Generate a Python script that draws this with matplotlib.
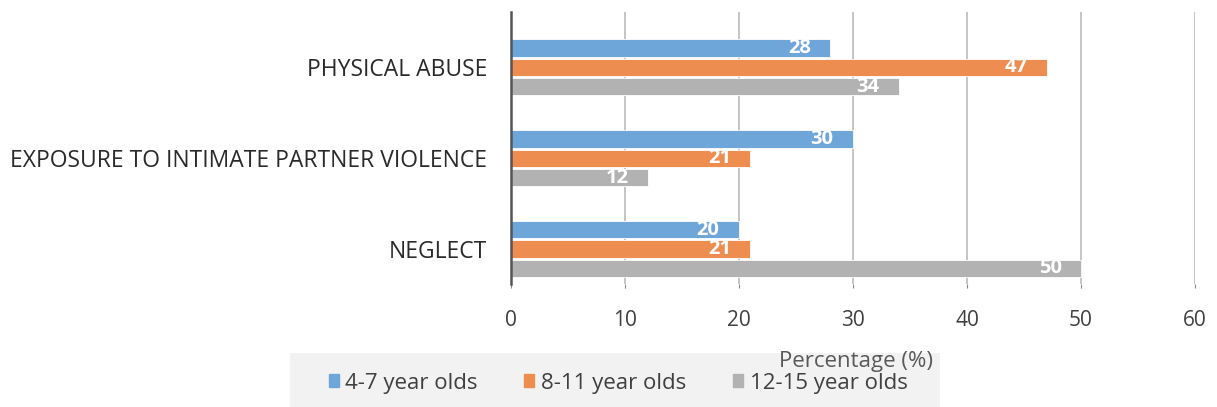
import matplotlib.pyplot as plt
import matplotlib.patches as mpatches
import numpy as np

categories = ["NEGLECT", "EXPOSURE TO INTIMATE PARTNER VIOLENCE", "PHYSICAL ABUSE"]
series_names = ["4-7 year olds", "8-11 year olds", "12-15 year olds"]
age_4_7 = [20, 30, 28]
age_8_11 = [21, 21, 47]
age_12_15 = [50, 12, 34]
xticks = [0, 10, 20, 30, 40, 50, 60]

colors = ["#6FA6DA", "#EE8D50", "#B2B2B2"]
plt.rcParams['font.family'] = ['Open Sans', 'DejaVu Sans']

fig = plt.figure(figsize=(12.17, 4.07), dpi=100)
ax = fig.add_axes([511 / 1217, 1 - 284 / 407, 684 / 1217, 272 / 407])

y = np.arange(len(categories))
bar_h = 0.19
step = 0.213
values = [age_4_7, age_8_11, age_12_15]
for i, (vals, c, name) in enumerate(zip(values, colors, series_names)):
    pos = y + (1 - i) * step
    bars = ax.barh(pos, vals, height=bar_h, color=c, edgecolor="white",
                   linewidth=0.6, label=name, zorder=2)
    for b, v in zip(bars, vals):
        ax.text(v - 1.7, b.get_y() + b.get_height() / 2, str(v), ha="right",
                va="center", color="white", fontsize=14.5, fontweight="bold",
                zorder=3)

ax.set_xlim(0, 60)
ax.set_ylim(-0.385, 2.61)
ax.set_xticks(xticks)
ax.set_yticks(y)
ax.set_yticklabels(categories, fontsize=16.5, color="#2A2A2A")
ax.tick_params(axis="y", length=0, pad=17)
ax.tick_params(axis="x", length=3, color="#888888", labelsize=15,
               labelcolor="#404040", pad=16)
ax.grid(axis="x", color="#BBBBBB", linewidth=1.2, zorder=0)
for s in ["top", "right", "bottom"]:
    ax.spines[s].set_visible(False)
ax.spines["left"].set_color("#555555")
ax.spines["left"].set_linewidth(1.8)

# light grey legend strip with axis title
fig.patches.append(mpatches.Rectangle((290 / 1217, 0), 650 / 1217, 54 / 407,
                                      transform=fig.transFigure,
                                      facecolor="#F2F2F2", edgecolor="none",
                                      zorder=0))
fig.text(933 / 1217, 1 - 362 / 407, "Percentage (%)", ha="right", va="center",
         fontsize=16, color="#595959")
handles = [mpatches.Patch(color=c, label=n) for c, n in zip(colors, series_names)]
fig.legend(handles=handles, loc="center", bbox_to_anchor=(618 / 1217, 1 - 383 / 407),
           ncol=3, frameon=False, fontsize=16, handlelength=0.45,
           handleheight=0.5, handletextpad=0.3, columnspacing=2.1,
           labelcolor="#404040")

fig.savefig("out.png", dpi=100)
